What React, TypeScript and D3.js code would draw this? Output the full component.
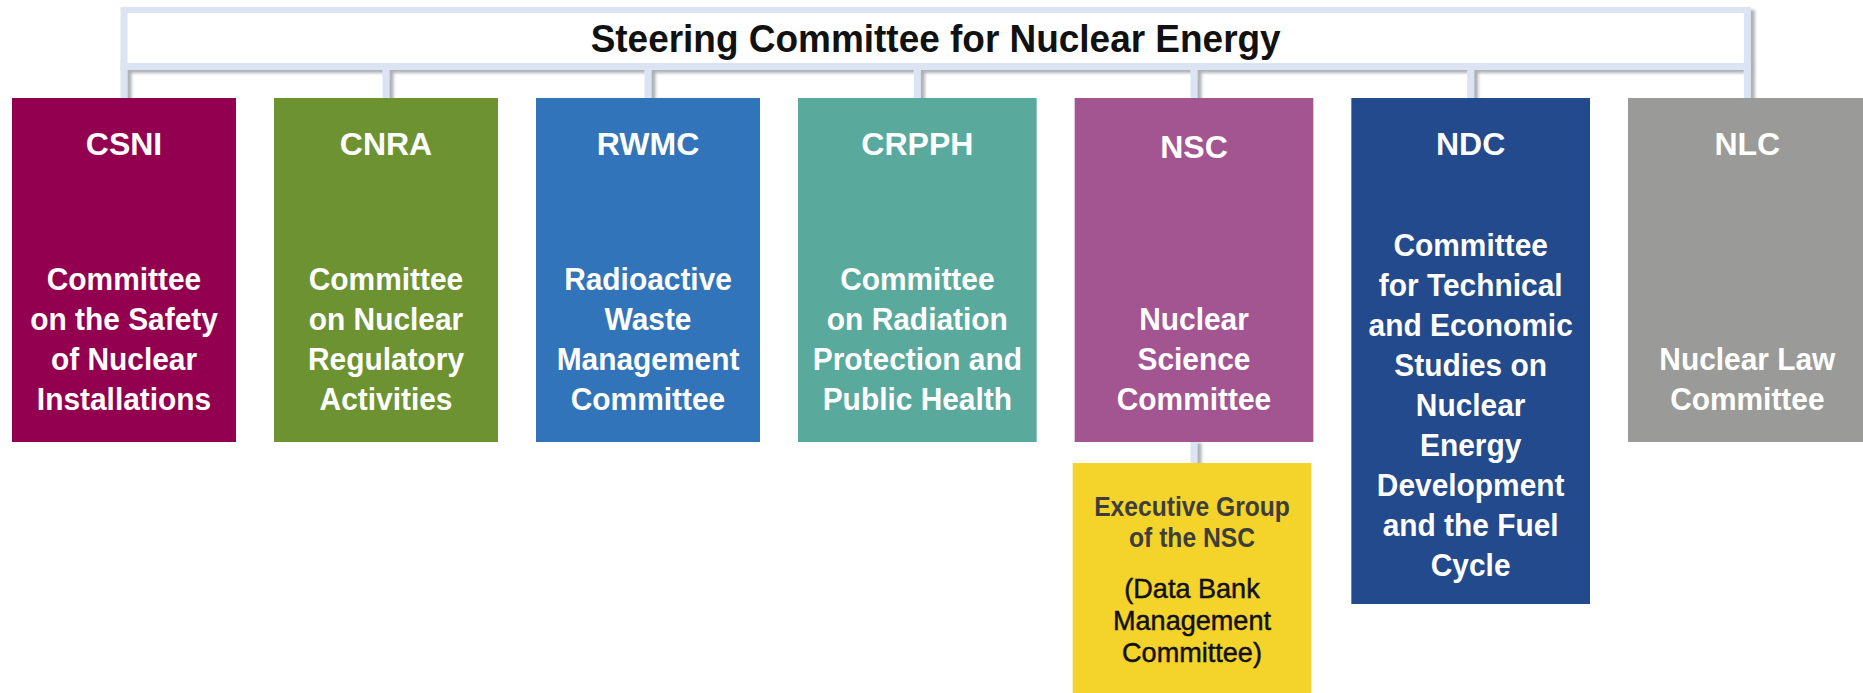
import * as d3 from 'd3';

const title = 'Steering Committee for Nuclear Energy';

const acronyms = ['CSNI', 'CNRA', 'RWMC', 'CRPPH', 'NSC', 'NDC', 'NLC'];

const fullNames = [
  ['Committee', 'on the Safety', 'of Nuclear', 'Installations'],
  ['Committee', 'on Nuclear', 'Regulatory', 'Activities'],
  ['Radioactive', 'Waste', 'Management', 'Committee'],
  ['Committee', 'on Radiation', 'Protection and', 'Public Health'],
  ['Nuclear', 'Science', 'Committee'],
  ['Committee', 'for Technical', 'and Economic', 'Studies on', 'Nuclear', 'Energy', 'Development', 'and the Fuel', 'Cycle'],
  ['Nuclear Law', 'Committee'],
];

const colors = ['#93004f', '#6d9231', '#3174ba', '#59a99d', '#a35592', '#234a8c', '#9a9b99'];

// sub body under NSC
const subParent = 'NSC';
const subTitle = ['Executive Group', 'of the NSC'];
const subNote = ['(Data Bank', 'Management', 'Committee)'];
const subColor = '#f4d32b';

const W = 1863;
const H = 693;
const FONT = "'Liberation Sans', Arial, sans-serif";

export default function App() {
  // left edges: first three slots are narrower than the last four
  const slot = d3.scaleLinear().domain([0, 3, 6]).range([12, 798, 1628]);
  const gap = 38;
  const boxX = (i: number) => slot(i);
  const boxW = (i: number) => slot(i + 1) - slot(i) - gap;
  const cx = (i: number) => boxX(i) + boxW(i) / 2;

  const top = 98;
  const lineH = 40;
  const lastBase = 410;
  const firstMin = 256;
  const firstBase = (n: number) => Math.max(firstMin, lastBase - (n - 1) * lineH);
  const boxBottom = (n: number) => Math.max(442, firstBase(n) + (n - 1) * lineH + 28);

  const frameColor = '#dce3f2';
  const bx0 = cx(0) - 3.5;
  const bx1 = cx(acronyms.length - 1) + 3.5;
  const pi = acronyms.indexOf(subParent);
  const pBottom = boxBottom(fullNames[pi].length);
  const subTop = pBottom + 21;

  const squeeze = (x: number, y: number, k: number) => `translate(${x},${y}) scale(${k},1)`;

  return (
    <svg width={W} height={H} style={{ position: 'absolute', left: 0, top: 0, background: '#fff' }} fontFamily={FONT}>
      <defs>
        <filter id="sh" x="-5%" y="-20%" width="110%" height="160%">
          <feDropShadow dx="4" dy="3" stdDeviation="1.6" floodColor="#6b6f78" floodOpacity="0.55" />
        </filter>
      </defs>

      {/* connectors */}
      <g filter="url(#sh)">
        {acronyms.map((a, i) => (
          <rect key={a} x={cx(i) - 3.5} y={60} width={7} height={top - 60} fill={frameColor} />
        ))}
        <rect x={cx(pi) - 3.5} y={pBottom - 2} width={7} height={subTop - pBottom + 2} fill={frameColor} />
        <rect x={bx0} y={7} width={bx1 - bx0} height={63} fill={frameColor} />
      </g>
      <rect x={bx0 + 7} y={13} width={bx1 - bx0 - 14} height={50} fill="#fff" />
      <text
        x={(bx0 + bx1) / 2}
        y={52}
        textAnchor="middle"
        fontWeight="bold"
        fontSize={38}
        fill="#111"
        textLength={690}
        lengthAdjust="spacingAndGlyphs"
      >
        {title}
      </text>

      {/* committee boxes */}
      {acronyms.map((a, i) => {
        const lines = fullNames[i];
        const fb = firstBase(lines.length);
        return (
          <g key={a}>
            <rect x={boxX(i)} y={top} width={boxW(i)} height={boxBottom(lines.length) - top} fill={colors[i]} />
            <text transform={squeeze(cx(i), a === subParent ? 158 : 155, 1)} textAnchor="middle" fontWeight="bold" fontSize={32} fill="#fff">
              {a}
            </text>
            {lines.map((l, j) => (
              <text key={j} transform={squeeze(cx(i), fb + j * lineH, 0.98)} textAnchor="middle" fontWeight="bold" fontSize={30.5} fill="#fff">
                {l}
              </text>
            ))}
          </g>
        );
      })}

      {/* sub group */}
      <g>
        <rect x={boxX(pi) - 2} y={subTop} width={boxW(pi)} height={H - subTop + 10} fill={subColor} />
        {subTitle.map((l, j) => (
          <text key={'t' + j} transform={squeeze(cx(pi) - 2, subTop + 53 + j * 31, 0.88)} textAnchor="middle" fontWeight="bold" fontSize={28} fill="#3d3d3a">
            {l}
          </text>
        ))}
        {subNote.map((l, j) => (
          <text key={'n' + j} transform={squeeze(cx(pi) - 2, subTop + 135 + j * 32, 0.95)} textAnchor="middle" fontSize={28.5} fill="#111" stroke="#111" strokeWidth={0.5}>
            {l}
          </text>
        ))}
      </g>
    </svg>
  );
}
